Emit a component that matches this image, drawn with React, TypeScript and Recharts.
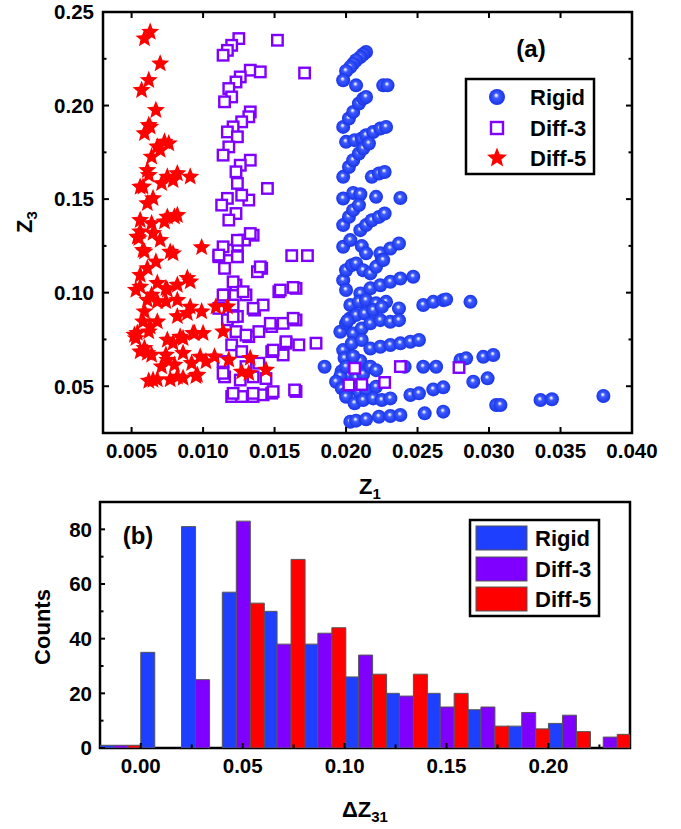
import React from "react";
import {
  ScatterChart,
  Scatter,
  BarChart,
  Bar,
  XAxis,
  YAxis,
  ReferenceArea,
} from "recharts";

const FONT = '"Liberation Sans", Arial, Helvetica, sans-serif';
const BLUE = "#1f3fff";
const PURPLE = "#7f00ff";
const RED = "#ff0000";

// panel (a): [Z1, Z3] pairs
const rigidPts: [number, number][] = [
  [0.0214, 0.2286], [0.0212, 0.2274], [0.021, 0.2259], [0.0207, 0.2242], [0.0205, 0.2224], [0.0203, 0.2206],
  [0.02, 0.2185], [0.0198, 0.2135], [0.0207, 0.2108], [0.0226, 0.2108], [0.0229, 0.2108],
  [0.0198, 0.1886], [0.0202, 0.1931], [0.0205, 0.1966], [0.0209, 0.2011], [0.0212, 0.2037], [0.0214, 0.2046],
  [0.02, 0.1806], [0.0206, 0.1815], [0.0211, 0.1824], [0.0214, 0.1841], [0.0219, 0.1859], [0.0224, 0.1877], [0.0228, 0.1886],
  [0.0198, 0.1619], [0.0202, 0.1672], [0.0205, 0.1708], [0.0209, 0.1744], [0.0212, 0.177], [0.0216, 0.1797],
  [0.0218, 0.1619], [0.0223, 0.1637], [0.0227, 0.1645],
  [0.0198, 0.1503], [0.0205, 0.1533], [0.021, 0.1526], [0.0221, 0.1512], [0.0238, 0.1506],
  [0.0198, 0.1361], [0.0202, 0.1405], [0.0205, 0.1441], [0.0209, 0.1468],
  [0.021, 0.1334], [0.0214, 0.1361], [0.0218, 0.1387], [0.0223, 0.1405], [0.0227, 0.1423],
  [0.0198, 0.1245], [0.0203, 0.1281], [0.0211, 0.1249], [0.0214, 0.121], [0.0224, 0.121], [0.0225, 0.1174],
  [0.0231, 0.1236], [0.0237, 0.1263],
  [0.0198, 0.1067], [0.02, 0.112], [0.0204, 0.1147], [0.0207, 0.1156], [0.0212, 0.112], [0.0217, 0.1103],
  [0.0221, 0.1138], [0.0226, 0.1174],
  [0.02, 0.1014], [0.021, 0.0996], [0.0217, 0.1023], [0.0224, 0.104], [0.0231, 0.1058], [0.0238, 0.1076], [0.0247, 0.1085],
  [0.0203, 0.0934], [0.0209, 0.0951], [0.0214, 0.096], [0.0221, 0.0943], [0.0228, 0.0951], [0.0237, 0.0916],
  [0.0254, 0.0934], [0.0261, 0.0951], [0.0268, 0.096], [0.027, 0.0964], [0.0287, 0.0951],
  [0.0196, 0.0791], [0.02, 0.0836], [0.0203, 0.0863], [0.0207, 0.088], [0.0213, 0.0889], [0.0219, 0.0907], [0.0225, 0.0924],
  [0.0205, 0.0782], [0.0211, 0.0809], [0.0217, 0.0836], [0.0224, 0.0853], [0.0231, 0.0844], [0.0237, 0.0853],
  [0.0198, 0.0693], [0.0204, 0.0729], [0.0211, 0.0747], [0.0217, 0.0702], [0.0224, 0.0711], [0.0231, 0.072],
  [0.0238, 0.0729], [0.0245, 0.0738], [0.0251, 0.0747],
  [0.0197, 0.058], [0.0199, 0.065], [0.0202, 0.056], [0.0207, 0.0545], [0.0201, 0.085], [0.0212, 0.0565],
  [0.021, 0.0635], [0.0205, 0.066], [0.0196, 0.0555],
  [0.0185, 0.0604], [0.02, 0.0604], [0.0217, 0.0604], [0.0221, 0.0586], [0.0241, 0.0604], [0.0254, 0.0604],
  [0.0263, 0.0604], [0.028, 0.064], [0.0284, 0.0649], [0.0296, 0.0657], [0.0303, 0.0667],
  [0.0193, 0.0524], [0.0197, 0.0489], [0.02, 0.0462], [0.0209, 0.0471], [0.0214, 0.048], [0.0221, 0.0497],
  [0.0289, 0.0524], [0.0299, 0.0542],
  [0.0245, 0.0453], [0.0251, 0.0462], [0.0261, 0.0483], [0.0268, 0.0494], [0.0305, 0.04], [0.0308, 0.04],
  [0.0336, 0.0426], [0.0344, 0.043], [0.038, 0.0448],
  [0.02, 0.0444], [0.0206, 0.0409], [0.0212, 0.0426], [0.0219, 0.0435], [0.0225, 0.0426], [0.0231, 0.0435],
  [0.0203, 0.031], [0.0207, 0.0316], [0.0214, 0.0323], [0.0223, 0.0337], [0.0231, 0.0341], [0.0238, 0.0346],
  [0.0255, 0.0355], [0.0268, 0.0364],
];

const diff3Pts: [number, number][] = [
  [0.0125, 0.2358], [0.0152, 0.2349], [0.012, 0.2322], [0.0117, 0.2295], [0.0114, 0.2269],
  [0.0133, 0.2189], [0.014, 0.218], [0.0171, 0.2174],
  [0.0126, 0.2153], [0.0123, 0.2126], [0.0118, 0.2091], [0.012, 0.2046], [0.0115, 0.202],
  [0.0133, 0.1966], [0.0132, 0.194], [0.0127, 0.1913], [0.0121, 0.1886], [0.0117, 0.1859], [0.0124, 0.1833],
  [0.0118, 0.1779], [0.0114, 0.1735],
  [0.0133, 0.1708], [0.0126, 0.1681], [0.0123, 0.1646], [0.0145, 0.1557], [0.0124, 0.1584], [0.0117, 0.1504],
  [0.0113, 0.1468], [0.0123, 0.1423], [0.0118, 0.1388], [0.0132, 0.1495], [0.0127, 0.1521],
  [0.0135, 0.1307], [0.0129, 0.1281], [0.0124, 0.1254], [0.0117, 0.1228], [0.0111, 0.1192], [0.0115, 0.113],
  [0.0124, 0.1192], [0.0141, 0.113], [0.0138, 0.1112], [0.0162, 0.1198], [0.0173, 0.1198],
  [0.0114, 0.1245], [0.0124, 0.128], [0.0133, 0.1316], [0.0111, 0.1201], [0.0124, 0.1192], [0.014, 0.1138],
  [0.0123, 0.1041], [0.013, 0.0988], [0.0115, 0.0988], [0.0111, 0.0916], [0.0121, 0.0934], [0.0136, 0.0907],
  [0.0142, 0.0934], [0.0153, 0.1005], [0.0165, 0.1023],
  [0.0121, 0.1058], [0.0114, 0.0987], [0.0128, 0.1005], [0.0135, 0.0916], [0.0154, 0.1014], [0.0163, 0.1028],
  [0.0117, 0.0855], [0.0124, 0.0873], [0.0123, 0.0792], [0.0132, 0.0765], [0.0139, 0.0792], [0.0148, 0.0819],
  [0.0156, 0.0836], [0.0165, 0.0854],
  [0.0121, 0.0871], [0.013, 0.0773], [0.0147, 0.0836], [0.0163, 0.0863],
  [0.012, 0.0721], [0.0127, 0.0685], [0.0148, 0.0685], [0.0158, 0.073], [0.0167, 0.0721], [0.0179, 0.073], [0.0156, 0.0667],
  [0.0149, 0.0693], [0.0158, 0.0738],
  [0.0114, 0.0632], [0.013, 0.0605], [0.0139, 0.0623], [0.0115, 0.055], [0.0135, 0.055], [0.0144, 0.0541],
  [0.0114, 0.0569], [0.0126, 0.0533],
  [0.012, 0.0445], [0.0127, 0.0445], [0.0135, 0.0445], [0.0142, 0.0454], [0.0148, 0.0463], [0.0165, 0.0472],
  [0.0121, 0.0462], [0.0135, 0.0462], [0.0149, 0.0471], [0.0164, 0.048],
  [0.0206, 0.0596], [0.0202, 0.0507], [0.0211, 0.0509], [0.0227, 0.052], [0.0238, 0.0605], [0.0279, 0.06],
];

const diff5Pts: [number, number][] = [
  [0.0063, 0.2393], [0.0059, 0.2358], [0.007, 0.2224], [0.0062, 0.2135], [0.0057, 0.2082], [0.0067, 0.1975],
  [0.0062, 0.1895], [0.0059, 0.1851], [0.0076, 0.1797], [0.007, 0.1762], [0.0064, 0.1726],
  [0.0063, 0.1886], [0.0068, 0.178], [0.0073, 0.1806],
  [0.0091, 0.1619], [0.0079, 0.1601], [0.0071, 0.1584], [0.0062, 0.1628], [0.0058, 0.1566], [0.0065, 0.1504],
  [0.0061, 0.1654], [0.0075, 0.1619], [0.0082, 0.1637], [0.0056, 0.1565],
  [0.0061, 0.1477], [0.0056, 0.1387], [0.0075, 0.1405], [0.0082, 0.1414], [0.0054, 0.1298], [0.0065, 0.1318],
  [0.008, 0.1406], [0.0073, 0.1379], [0.0064, 0.137], [0.0056, 0.1326], [0.0055, 0.129], [0.007, 0.1281],
  [0.0079, 0.1209], [0.0059, 0.1219], [0.0099, 0.1242], [0.0077, 0.1218], [0.0058, 0.1227],
  [0.0061, 0.113], [0.0056, 0.1094], [0.0067, 0.1165],
  [0.0089, 0.1078], [0.0056, 0.1031], [0.0068, 0.1051], [0.0075, 0.1014], [0.0061, 0.096], [0.0082, 0.096], [0.0091, 0.0924],
  [0.0091, 0.1059], [0.0082, 0.1041], [0.0074, 0.1023], [0.0053, 0.1014], [0.0064, 0.0988], [0.0068, 0.0952],
  [0.0099, 0.0899], [0.0089, 0.089], [0.0082, 0.0873], [0.0059, 0.0899], [0.0074, 0.0952],
  [0.0058, 0.0845], [0.0068, 0.0845], [0.0062, 0.0792], [0.0052, 0.0774],
  [0.0054, 0.0784], [0.0063, 0.0818], [0.0075, 0.0747], [0.0084, 0.0764], [0.0093, 0.0784],
  [0.0094, 0.0783], [0.0086, 0.0756], [0.0079, 0.073], [0.0053, 0.0756], [0.0059, 0.0703], [0.0064, 0.0667],
  [0.0056, 0.0685], [0.0074, 0.0667],
  [0.0061, 0.0677], [0.0075, 0.064], [0.0086, 0.0677], [0.0098, 0.0657],
  [0.0102, 0.0632], [0.0092, 0.0623], [0.008, 0.0614], [0.0071, 0.0605],
  [0.0095, 0.0553], [0.0086, 0.0544], [0.0077, 0.0535], [0.0068, 0.0535], [0.0062, 0.0528],
  [0.0065, 0.0533], [0.0082, 0.055], [0.0096, 0.056],
  [0.0109, 0.0925], [0.0117, 0.0925], [0.01, 0.0783], [0.0114, 0.0792],
  [0.0108, 0.0658], [0.0118, 0.0641], [0.0133, 0.065],
  [0.0127, 0.0577], [0.0132, 0.0569], [0.0144, 0.0587],
];

// panel (b): histogram of dZ31, bins 0.02 wide (centres)
const binCenters = [-0.01, 0.01, 0.03, 0.05, 0.07, 0.09, 0.11, 0.13, 0.15, 0.17, 0.19, 0.21, 0.23];
const rigidCounts = [1, 35, 81, 57, 50, 38, 26, 20, 20, 14, 8, 9, 0];
const diff3Counts = [1, 0, 25, 83, 38, 42, 34, 19, 15, 15, 13, 12, 4];
const diff5Counts = [1, 0, 0, 53, 69, 44, 27, 27, 20, 8, 7, 6, 5];

const z1Ticks = [0.005, 0.01, 0.015, 0.02, 0.025, 0.03, 0.035, 0.04];
const z3Ticks = [0.025, 0.05, 0.075, 0.1, 0.125, 0.15, 0.175, 0.2, 0.225, 0.25];
const dzTicks = [0, 0.025, 0.05, 0.075, 0.1, 0.125, 0.15, 0.175, 0.2, 0.225];
const countTicks = [0, 10, 20, 30, 40, 50, 60, 70, 80];

const toPts = (arr: [number, number][]) => arr.map(([z1, z3]) => ({ z1, z3 }));
const histData = binCenters.map((x, i) => ({
  x,
  rigid: rigidCounts[i],
  diff3: diff3Counts[i],
  diff5: diff5Counts[i],
}));

// plot box of panel (a), for the mirrored ticks
const A_TOP = 12;
const A_RIGHT = 632;

const isStep = (v: number, step: number) => Math.abs(v / step - Math.round(v / step)) < 1e-6;
const tickText = { fontFamily: FONT, fontWeight: 700, fontSize: 20.5, fill: "#000" };

const XTickA = ({ x, y, payload }: any) => (
  <g>
    <line x1={x} x2={x} y1={y} y2={y - 6} stroke="#000" strokeWidth={2} />
    <line x1={x} x2={x} y1={A_TOP} y2={A_TOP + 6} stroke="#000" strokeWidth={2} />
    <text x={x} y={y + 25} textAnchor="middle" {...tickText}>
      {payload.value.toFixed(3)}
    </text>
  </g>
);

const YTickA = ({ x, y, payload }: any) => {
  const major = isStep(payload.value, 0.05);
  const len = major ? 6 : 3.5;
  return (
    <g>
      <line x1={x} x2={x + len} y1={y} y2={y} stroke="#000" strokeWidth={2} />
      <line x1={A_RIGHT} x2={A_RIGHT - len} y1={y} y2={y} stroke="#000" strokeWidth={2} />
      {major && (
        <text x={x - 9} y={y} dy="0.36em" textAnchor="end" {...tickText}>
          {payload.value.toFixed(2)}
        </text>
      )}
    </g>
  );
};

const XTickB = ({ x, y, payload }: any) => {
  const major = isStep(payload.value, 0.05);
  return (
    <g>
      <line x1={x} x2={x} y1={y} y2={y - (major ? 5 : 3.5)} stroke="#000" strokeWidth={2} />
      {major && (
        <text x={x} y={y + 25} textAnchor="middle" {...tickText}>
          {payload.value.toFixed(2)}
        </text>
      )}
    </g>
  );
};

const YTickB = ({ x, y, payload }: any) => {
  const major = isStep(payload.value, 20);
  return (
    <g>
      <line x1={x} x2={x + (major ? 5 : 3.5)} y1={y} y2={y} stroke="#000" strokeWidth={2} />
      {major && (
        <text x={x - 8} y={y} dy="0.36em" textAnchor="end" {...tickText}>
          {payload.value}
        </text>
      )}
    </g>
  );
};

const Sphere = ({ cx, cy, r = 7 }: any) => (
  <circle cx={cx} cy={cy} r={r} fill="url(#sphereFill)" />
);

const OpenSquare = ({ cx, cy, s = 10.5 }: any) => (
  <rect x={cx - s / 2} y={cy - s / 2} width={s} height={s} fill="#fff" stroke={PURPLE} strokeWidth={2.4} />
);

const Star = ({ cx, cy, r = 9.5 }: any) => {
  const pts: string[] = [];
  for (let i = 0; i < 10; i++) {
    const rad = i % 2 === 0 ? r : r * 0.44;
    const a = -Math.PI / 2 + (i * Math.PI) / 5;
    pts.push(`${cx + rad * Math.cos(a)},${cy + rad * Math.sin(a)}`);
  }
  return <polygon points={pts.join(" ")} fill={RED} />;
};

const label = { fontFamily: FONT, fontWeight: 700, fill: "#000" };

const Overlay = () => (
  <svg
    width={681}
    height={829}
    style={{ position: "absolute", left: 0, top: 0, pointerEvents: "none" }}
  >
    <defs>
      <radialGradient id="sphereFill" cx="50%" cy="50%" r="50%" fx="44%" fy="38%">
        <stop offset="0%" stopColor="#ffffff" />
        <stop offset="14%" stopColor="#c4ccff" />
        <stop offset="34%" stopColor="#3d5bff" />
        <stop offset="100%" stopColor="#1834e8" />
      </radialGradient>
    </defs>

    {/* panel (a) annotations */}
    <text x={531} y={57} textAnchor="middle" fontSize={24} {...label}>(a)</text>
    <rect x={466} y={79} width={128} height={95} fill="#fff" stroke="#000" strokeWidth={2.5} />
    <Sphere cx={497} cy={97} r={8} />
    <OpenSquare cx={497} cy={128} s={12} />
    <Star cx={497} cy={158} r={10.5} />
    <text x={530} y={105} fontSize={22} {...label}>Rigid</text>
    <text x={530} y={136} fontSize={22} {...label}>Diff-3</text>
    <text x={530} y={166} fontSize={22} {...label}>Diff-5</text>
    <text transform="translate(32,222) rotate(-90)" textAnchor="middle" fontSize={22} {...label}>
      Z<tspan dy={5} fontSize={15}>3</tspan>
    </text>
    <text x={370} y={494} textAnchor="middle" fontSize={22} {...label}>
      Z<tspan dy={5} fontSize={15}>1</tspan>
    </text>

    {/* panel (b) annotations */}
    <text x={138} y={544} textAnchor="middle" fontSize={24} {...label}>(b)</text>
    <rect x={470} y={520} width={129} height={96} fill="#fff" stroke="#000" strokeWidth={2.5} />
    <rect x={476} y={526} width={51} height={24} fill={BLUE} stroke="#555" strokeWidth={1} />
    <rect x={476} y={557} width={51} height={24} fill={PURPLE} stroke="#555" strokeWidth={1} />
    <rect x={476} y={587} width={51} height={24} fill={RED} stroke="#555" strokeWidth={1} />
    <text x={535} y={546} fontSize={22} {...label}>Rigid</text>
    <text x={535} y={577} fontSize={22} {...label}>Diff-3</text>
    <text x={535} y={607} fontSize={22} {...label}>Diff-5</text>
    <text transform="translate(50,627) rotate(-90)" textAnchor="middle" fontSize={22} {...label}>
      Counts
    </text>
    <text x={365} y={817} textAnchor="middle" fontSize={22} {...label}>
      ΔZ<tspan dy={5} fontSize={15}>31</tspan>
    </text>
  </svg>
);

export default function App() {
  return (
    <div style={{ position: "absolute", left: 0, top: 0, width: 681, height: 829, background: "#fff" }}>
      <ScatterChart width={681} height={480} margin={{ top: 12, right: 49, bottom: 17, left: 43 }}>
        <XAxis
          type="number"
          dataKey="z1"
          domain={[0.003, 0.04]}
          allowDataOverflow
          ticks={z1Ticks}
          interval={0}
          height={30}
          axisLine={false}
          tickLine={false}
          tickSize={0}
          tickMargin={0}
          tick={<XTickA />}
        />
        <YAxis
          type="number"
          dataKey="z3"
          domain={[0.025, 0.25]}
          allowDataOverflow
          ticks={z3Ticks}
          interval={0}
          width={60}
          axisLine={false}
          tickLine={false}
          tickSize={0}
          tickMargin={0}
          tick={<YTickA />}
        />
        <ReferenceArea
          x1={0.003}
          x2={0.04}
          y1={0.025}
          y2={0.25}
          fill="none"
          stroke="#000"
          strokeWidth={2.5}
          ifOverflow="visible"
        />
        <Scatter name="Rigid" data={toPts(rigidPts)} shape={(p: any) => <Sphere cx={p.cx} cy={p.cy} />} isAnimationActive={false} />
        <Scatter name="Diff-3" data={toPts(diff3Pts)} shape={(p: any) => <OpenSquare cx={p.cx} cy={p.cy} />} isAnimationActive={false} />
        <Scatter name="Diff-5" data={toPts(diff5Pts)} shape={(p: any) => <Star cx={p.cx} cy={p.cy} />} isAnimationActive={false} />
      </ScatterChart>

      <BarChart
        width={681}
        height={349}
        data={histData}
        margin={{ top: 22, right: 51, bottom: 51, left: 40 }}
        barGap={0}
        barCategoryGap={0}
      >
        <XAxis
          type="number"
          dataKey="x"
          domain={[-0.02, 0.24]}
          allowDataOverflow
          ticks={dzTicks}
          interval={0}
          height={30}
          axisLine={false}
          tickLine={false}
          tickSize={0}
          tickMargin={0}
          tick={<XTickB />}
        />
        <YAxis
          type="number"
          domain={[0, 90]}
          allowDataOverflow
          ticks={countTicks}
          interval={0}
          width={60}
          axisLine={false}
          tickLine={false}
          tickSize={0}
          tickMargin={0}
          tick={<YTickB />}
        />
        <Bar dataKey="rigid" name="Rigid" fill={BLUE} stroke="#555" strokeWidth={1} isAnimationActive={false} />
        <Bar dataKey="diff3" name="Diff-3" fill={PURPLE} stroke="#555" strokeWidth={1} isAnimationActive={false} />
        <Bar dataKey="diff5" name="Diff-5" fill={RED} stroke="#555" strokeWidth={1} isAnimationActive={false} />
        <ReferenceArea
          x1={-0.02}
          x2={0.24}
          y1={0}
          y2={90}
          fill="none"
          stroke="#000"
          strokeWidth={2.5}
          ifOverflow="visible"
        />
      </BarChart>

      <Overlay />
    </div>
  );
}
